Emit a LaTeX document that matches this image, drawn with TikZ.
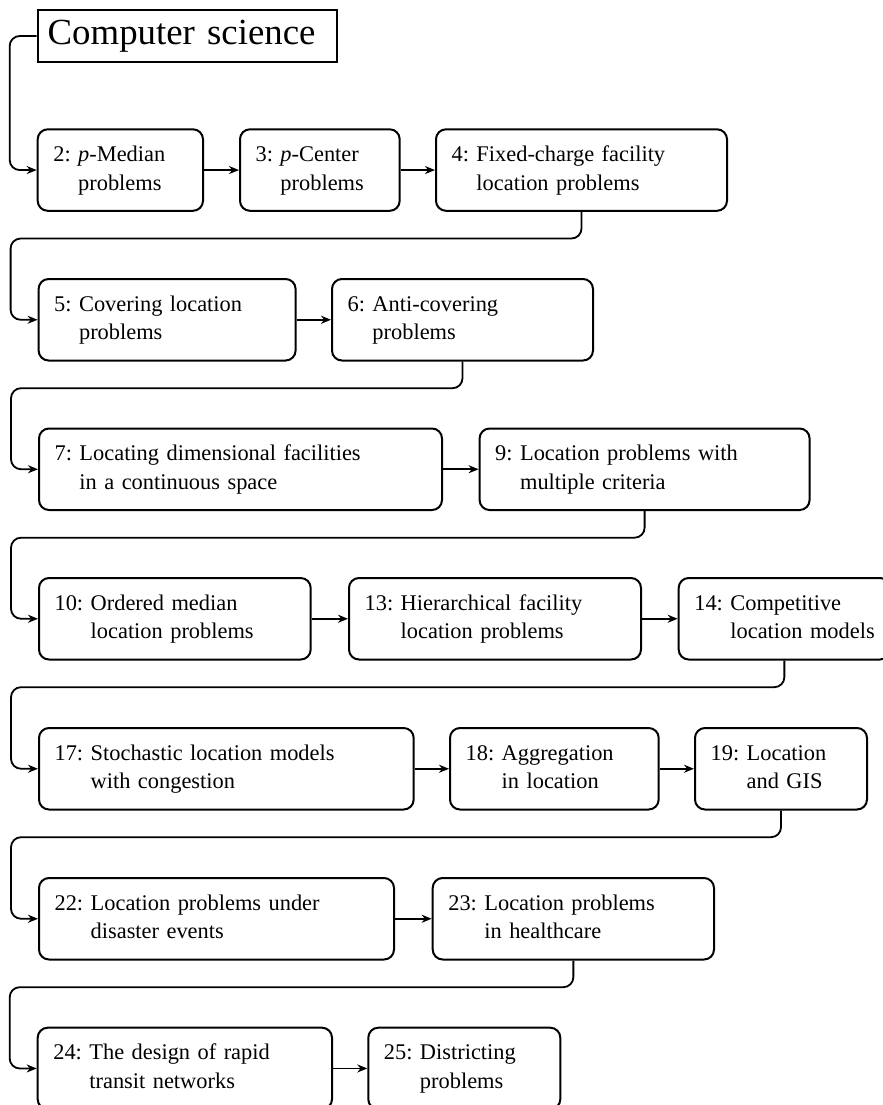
\documentclass[tikz,border=0pt]{standalone}
\usepackage{fontspec}
\setmainfont{Liberation Serif}
\usetikzlibrary{arrows.meta}
\frenchspacing
\newcommand{\topic}[3]{#1:~\begin{tabular}[t]{@{}l@{}}#2\\#3\end{tabular}}
\begin{document}
\begin{tikzpicture}[x=0.5pt, y=-0.5pt, >={Stealth[length=5pt,width=4pt,inset=1.6pt]},
    box/.style={draw, line width=1pt, rounded corners=5pt, anchor=north west, align=left,
        inner xsep=7.8pt, minimum height=40.75pt, text width=#1,
        font=\fontsize{11.2pt}{14.25pt}\selectfont},
    link/.style={->, line width=0.9pt, rounded corners=5pt}]
    \useasboundingbox (0,0) rectangle (883,1105);
    \clip (0,0) rectangle (883,1105);
    \node[draw, line width=1pt, anchor=north west, align=left, inner xsep=5pt,
        text width=139.5pt, minimum height=26pt,
        font=\fontsize{18.4pt}{22pt}\selectfont] (cs) at (36.7,9) {Computer science};
    % row 1
    \node[box=67.05pt] (b2) at (36.7,128.3) {\topic{2}{\textit{p}-Median}{problems}};
    \node[box=64.25pt] (b3) at (239,128.3) {\topic{3}{\textit{p}-Center}{problems}};
    \node[box=129.9pt] (b4) at (435,128.3) {\topic{4}{Fixed-charge facility}{location problems}};
    % row 2
    \node[box=112.9pt] (b5) at (37.6,278) {\topic{5}{Covering location}{problems}};
    \node[box=114.9pt] (b6) at (331,278) {\topic{6}{Anti-covering}{problems}};
    % row 3
    \node[box=185.9pt] (b7) at (38,427.5) {\topic{7}{Locating dimensional facilities}{in a continuous space}};
    \node[box=149.4pt] (b9) at (478.6,427.5) {\topic{9}{Location problems with}{multiple criteria}};
    % row 4
    \node[box=120.25pt] (b10) at (38,577) {\topic{10}{Ordered median}{location problems}};
    \node[box=130.4pt] (b13) at (348,577) {\topic{13}{Hierarchical facility}{location problems}};
    \node[box=90.05pt] (b14) at (677.7,577) {\topic{14}{Competitive}{location models}};
    % row 5
    \node[box=171.75pt] (b17) at (38,727) {\topic{17}{Stochastic location models}{with congestion}};
    \node[box=88.75pt] (b18) at (449,727) {\topic{18}{Aggregation}{in location}};
    \node[box=70.4pt] (b19) at (694,727) {\topic{19}{Location}{and GIS}};
    % row 6
    \node[box=161.9pt] (b22) at (38,877) {\topic{22}{Location problems under}{disaster events}};
    \node[box=125.05pt] (b23) at (431.7,877) {\topic{23}{Location problems}{in healthcare}};
    % row 7
    \node[box=131.55pt] (b24) at (36.7,1026.7) {\topic{24}{The design of rapid}{transit networks}};
    \node[box=80.4pt] (b25) at (367.3,1026.7) {\topic{25}{Districting}{problems}};

    \draw[link] (cs.west) -- ++(-27,0) |- (b2.west);
    \draw[link] (b2) -- (b3);
    \draw[link] (b3) -- (b4);
    \draw[link] (b4.south) -- ++(0,26.7) -| ([xshift=-13.5pt]b5.west) -- (b5.west);
    \draw[link] (b5) -- (b6);
    \draw[link] (b6.south) -- ++(0,26.7) -| ([xshift=-13.5pt]b7.west) -- (b7.west);
    \draw[link] (b7) -- (b9);
    \draw[link] (b9.south) -- ++(0,26.7) -| ([xshift=-13.5pt]b10.west) -- (b10.west);
    \draw[link] (b10) -- (b13);
    \draw[link] (b13) -- (b14);
    \draw[link] (b14.south) -- ++(0,26.7) -| ([xshift=-13.5pt]b17.west) -- (b17.west);
    \draw[link] (b17) -- (b18);
    \draw[link] (b18) -- (b19);
    \draw[link] (b19.south) -- ++(0,26.7) -| ([xshift=-13.5pt]b22.west) -- (b22.west);
    \draw[link] (b22) -- (b23);
    \draw[link] (b23.south) -- ++(0,26.7) -| ([xshift=-13.5pt]b24.west) -- (b24.west);
    \draw[link] (b24) -- (b25);
\end{tikzpicture}
\end{document}
